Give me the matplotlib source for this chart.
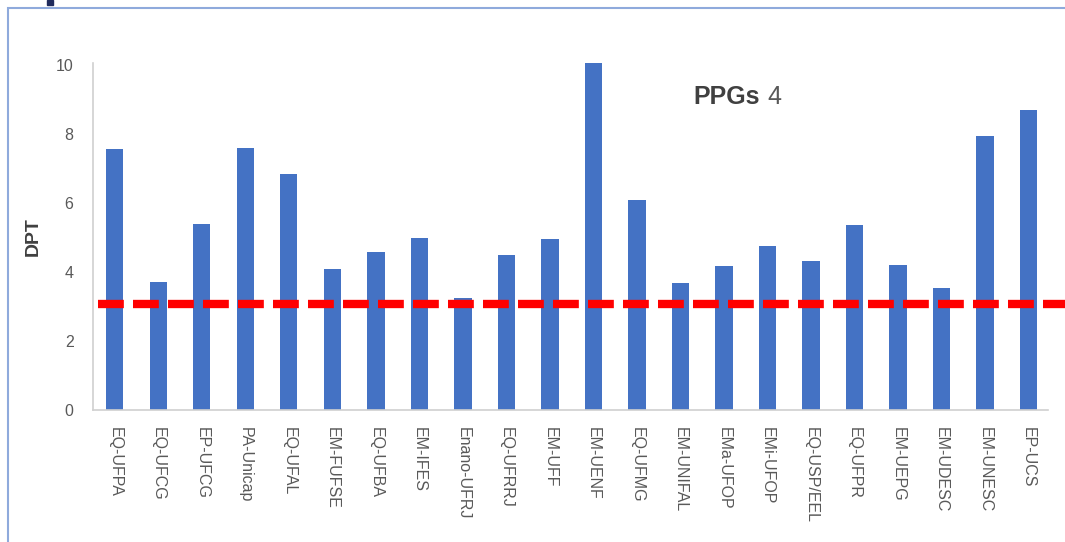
import matplotlib
matplotlib.use("Agg")
import matplotlib.pyplot as plt
from matplotlib.patches import Rectangle

programas = ["EQ-UFPA", "EQ-UFCG", "EP-UFCG", "PA-Unicap", "EQ-UFAL", "EM-FUFSE",
             "EQ-UFBA", "EM-IFES", "Enano-UFRJ", "EQ-UFRRJ", "EM-UFF", "EM-UENF",
             "EQ-UFMG", "EM-UNIFAL", "EMa-UFOP", "EMi-UFOP", "EQ-USP/EEL", "EQ-UFPR",
             "EM-UEPG", "EM-UDESC", "EM-UNESC", "EP-UCS"]
dpt = [7.57, 3.71, 5.39, 7.59, 6.84, 4.09, 4.58, 4.99, 3.25, 4.49, 4.96, 10.1,
       6.09, 3.68, 4.17, 4.75, 4.32, 5.36, 4.20, 3.54, 7.94, 8.70]
referencia = 3.07
yticks = [0, 2, 4, 6, 8, 10]

plt.rcParams['font.family'] = ['Liberation Sans', 'DejaVu Sans']
cinza = "#595959"

fig = plt.figure(figsize=(10.65, 5.42), dpi=100)
fig.patch.set_facecolor("white")

# moldura do slide
fig.patches.append(Rectangle((8 / 1065, -0.05), 1.1, 1 - 8 / 542 + 0.05,
                             transform=fig.transFigure, fill=False,
                             edgecolor="#8faadc", linewidth=1.5))
# pedaco do titulo do slide, cortado no topo
fig.patches.append(Rectangle((47 / 1065, 1 - 5 / 542), 6 / 1065, 5 / 542,
                             transform=fig.transFigure, color="#1f2a5c"))

ax = fig.add_axes([93 / 1065, 1 - 410 / 542, 955 / 1065, 347 / 542])
x = list(range(len(programas)))
ax.bar(x, dpt, width=0.4, color="#4472c4", zorder=2)
ax.set_xlim(-0.5, len(programas) - 0.55)
ax.set_ylim(0, 10.05)

ax.axhline(referencia, xmin=0.005, xmax=1.02, color="#ff0000", linewidth=6,
           linestyle=(0, (3.1, 1.1)), clip_on=False, zorder=3)

ax.set_xticks(x)
ax.set_xticklabels(programas, rotation=-90, fontsize=11.5, color=cinza)
ax.set_yticks(yticks)
ax.set_yticklabels([str(v) for v in yticks], fontsize=11.5, color=cinza)
ax.tick_params(axis="both", length=0)
ax.tick_params(axis="x", pad=12)
ax.tick_params(axis="y", pad=14)

for lado in ["top", "right"]:
    ax.spines[lado].set_visible(False)
for lado in ["left", "bottom"]:
    ax.spines[lado].set_color("#d0d0d0")
    ax.spines[lado].set_linewidth(1.2)

ax.set_ylabel("DPT", fontsize=14, fontweight="bold", color="#404040", labelpad=10)

# titulo: "PPGs" em negrito, "4" normal
ax.text((693 - 93) / 955, (410 - 97) / 347, "PPGs", transform=ax.transAxes,
        fontsize=18, fontweight="bold", color="#404040", ha="left", va="center")
ax.text((767 - 93) / 955, (410 - 97) / 347, "4", transform=ax.transAxes,
        fontsize=18, color="#595959", ha="left", va="center")

fig.savefig("out.png", dpi=100)
